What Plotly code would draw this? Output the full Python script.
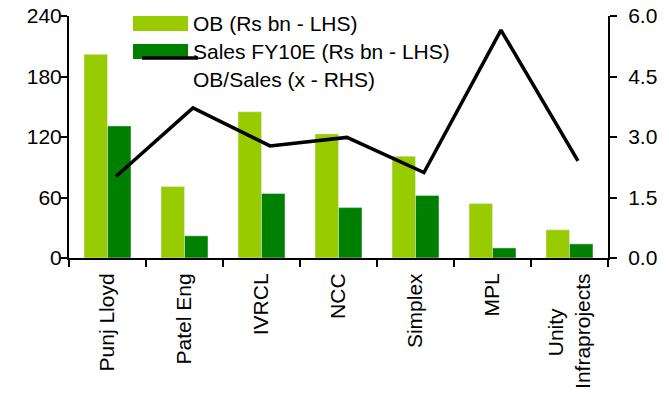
import plotly.graph_objects as go

categories = ["Punj Lloyd", "Patel Eng", "IVRCL", "NCC", "Simplex", "MPL",
              "Unity" + "&nbsp;" * 6 + "<br>Infraprojects"]
ob = [202, 71, 145, 123, 101, 54, 28]
sales = [131, 22, 64, 50, 62, 10, 14]
ob_sales = [2.02, 3.72, 2.78, 2.99, 2.12, 5.65, 2.41]

left_ticks = [0, 60, 120, 180, 240]
right_ticks = [0.0, 1.5, 3.0, 4.5, 6.0]

FONT = "Liberation Sans, Arial, sans-serif"
FS = 21
LIGHT = "#99CC00"
DARK = "#008000"

# plot area in pixels
L, R, T, B = 69, 608, 16, 258.5
W, H = R - L, B - T

def px(x):
    return (x - L) / W

def py(y):
    return (B - y) / H

fig = go.Figure()
fig.add_trace(go.Bar(x=categories, y=ob, marker_color=LIGHT, name="OB (Rs bn - LHS)"))
fig.add_trace(go.Bar(x=categories, y=sales, marker_color=DARK, name="Sales FY10E (Rs bn - LHS)"))
fig.add_trace(go.Scatter(x=categories, y=ob_sales, mode="lines", line=dict(color="black", width=3.5),
                         name="OB/Sales (x - RHS)", xaxis="x2", yaxis="y2"))

axis_common = dict(showgrid=False, zeroline=False, showline=True, linecolor="black", linewidth=2,
                   ticks="outside", ticklen=7, tickwidth=1.5, tickcolor="black", automargin=False,
                   tickfont=dict(family=FONT, size=FS, color="black"))

fig.update_layout(
    width=669, height=394,
    margin=dict(l=L, r=669 - R, t=T, b=394 - B, autoexpand=False),
    plot_bgcolor="white", paper_bgcolor="white",
    showlegend=False,
    barmode="group", bargap=0.39, bargroupgap=0,
    font=dict(family=FONT, size=FS, color="black"),
    xaxis=dict(**axis_common, type="category", tickangle=-90, tickson="boundaries",
               range=[-0.5, 6.5], ticklabelstandoff=5),
    xaxis2=dict(type="category", overlaying="x", visible=False, range=[-0.61, 6.39]),
    yaxis=dict(**axis_common, range=[0, 240], tickvals=left_ticks, ticktext=[str(v) for v in left_ticks],
               ticklabelstandoff=-6),
    yaxis2=dict(**axis_common, range=[0, 6], overlaying="y", side="right", tickvals=right_ticks,
                ticktext=[f"{v:.1f}" for v in right_ticks], ticklabelstandoff=7),
)

# manual legend
fig.add_shape(type="rect", xref="paper", yref="paper", x0=px(133), x1=px(188), y0=py(31), y1=py(16),
              fillcolor=LIGHT, line_width=0)
fig.add_shape(type="rect", xref="paper", yref="paper", x0=px(133), x1=px(188), y0=py(59), y1=py(44),
              fillcolor=DARK, line_width=0)
labels = ["OB (Rs bn - LHS)", "Sales FY10E (Rs bn - LHS)", "OB/Sales (x - RHS)"]
ys = [24, 52, 80]
for t, yy in zip(labels, ys):
    fig.add_annotation(xref="paper", yref="paper", x=px(191), y=py(yy), text=t, showarrow=False,
                       xanchor="left", yanchor="middle", font=dict(family=FONT, size=FS, color="black"))
fig.add_shape(type="line", xref="paper", yref="paper", x0=px(142), x1=px(198), y0=py(58), y1=py(58),
              line=dict(color="black", width=3.5))

fig.write_html("out.html")
